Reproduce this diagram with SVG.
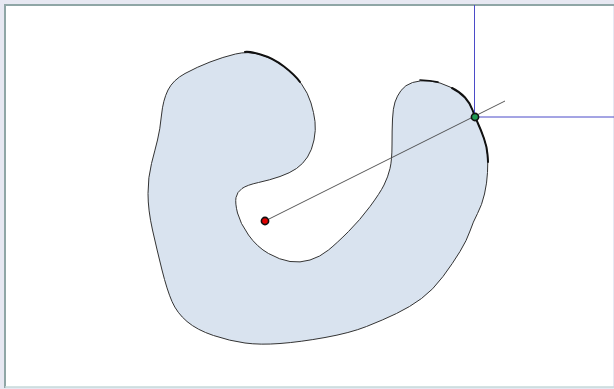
<svg xmlns="http://www.w3.org/2000/svg" width="614" height="389" viewBox="0 0 614 389">
<style>
.shape{fill:#d9e3ef;stroke:#333;stroke-width:1;stroke-linejoin:round}
.thick{fill:none;stroke:#111;stroke-width:2;stroke-linecap:round}
.guide{stroke:#4b4bc8;stroke-width:1;fill:none}
.ray{stroke:#444;stroke-width:0.9;fill:none}
.dot{stroke:#111;stroke-width:1.6}
</style>
<rect x="0" y="0" width="614" height="389" fill="#e7e8f2"/>
<rect x="5" y="5" width="608" height="382" fill="#fff"/>
<line x1="5" y1="5" x2="5" y2="388" stroke="#8fa6a6" stroke-width="2"/>
<line x1="4" y1="5" x2="614" y2="5" stroke="#8fa6a6" stroke-width="2"/>
<line x1="5" y1="387" x2="614" y2="387" stroke="#c6dada" stroke-width="1.5"/>
<g id="shape">
<path class="shape" d="M235.5 54 Q248 51 260.5 54.5 Q273 58 284 66.5 Q295 75 301.5 84 Q308 93 311 103 Q314 113 315 121.5 Q316 130 314 140 Q312 150 307.5 157 Q303 164 296.5 168.5 Q290 173 280 176.5 Q270 180 258.5 182.5 Q247 185 242 188.5 Q237 192 236 197.5 Q235 203 237.5 213 Q240 223 248.5 235 Q257 247 268.5 253.5 Q280 260 290 261.5 Q300 263 310 260 Q320 257 328.5 250 Q337 243 348.5 231.5 Q360 220 370 206.5 Q380 193 384 185 Q388 177 390 168.5 Q392 160 392 145 Q392 130 392.5 119 Q393 108 395 102 Q397 96 401 90.5 Q405 85 412.5 82.5 Q420 80 430 81 Q440 82 450 87 Q460 92 465 97.5 Q470 103 472.5 110 Q475 117 478 123.5 Q481 130 484 138.5 Q487 147 487.5 154.5 Q488 162 487.5 172.5 Q487 183 484.5 194 Q482 205 477.5 213.5 Q473 222 470 231 Q467 240 460 251.5 Q453 263 443 276.5 Q433 290 421.5 298.5 Q410 307 396.5 313.5 Q383 320 366.5 326.5 Q350 333 325 337.5 Q300 342 280 343.5 Q260 345 245 343 Q230 341 213.5 335.5 Q197 330 187 321.5 Q177 313 172 301.5 Q167 290 162 270 Q157 250 152.5 230 Q148 210 148 193.5 Q148 177 151.5 163.5 Q155 150 157.5 140 Q160 130 161.5 115 Q163 100 168 90 Q173 80 185 73.5 Q197 67 210 62 Q223 57 235.5 54 Z"/>
<path class="thick" d="M245 52 Q248 51 260.5 54.5 Q273 58 284 66.5 Q295 75 300 82"/>
<path class="thick" style="stroke-width:1.6" d="M420 80 Q430 80.5 438 82"/>
<path class="thick" d="M452 88 Q460 92 465 97.5 Q470 103 472.5 110 Q475 117 478 123.5 Q481 130 484 138.5 Q487 147 487.5 154.5 Q488 160 488 162"/>
</g>
<g id="connectors">
<line class="guide" x1="474.5" y1="5" x2="474.5" y2="117"/>
<line class="guide" x1="474.5" y1="117" x2="614" y2="117"/>
<line class="ray" x1="265" y1="221" x2="505" y2="101"/>
</g>
<g id="center">
<circle class="dot" cx="265" cy="221" r="3.6" fill="#e00000"/>
</g>
<g id="boundary-point">
<circle class="dot" cx="475" cy="117" r="3.6" fill="#1f9a52"/>
</g>
</svg>
